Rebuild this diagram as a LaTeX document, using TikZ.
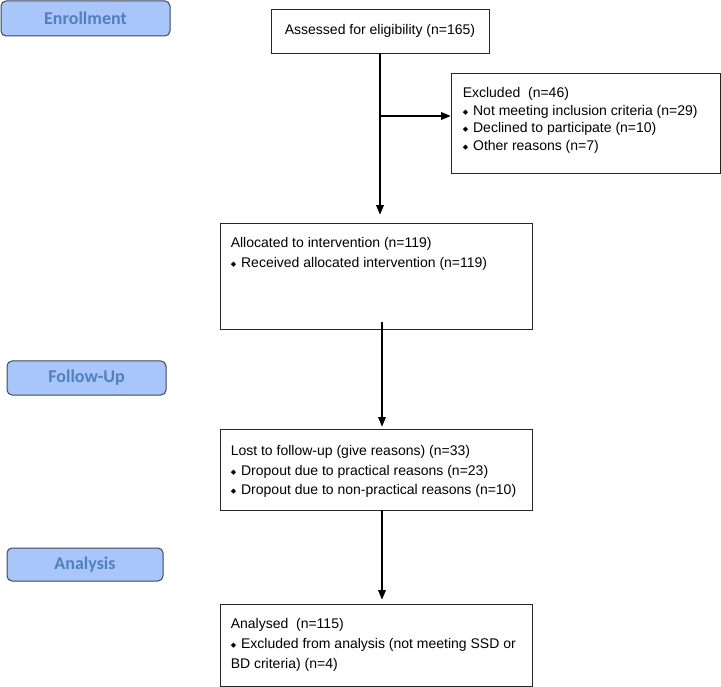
\documentclass[tikz,border=0pt]{standalone}
\usepackage{fontspec}
\setmainfont{Liberation Sans}
\newfontfamily\stagefont{Carlito}
\newfontfamily\symfont{DejaVu Sans}
\usetikzlibrary{arrows}
\usetikzlibrary{positioning}
\definecolor{stagefill}{RGB}{169,198,250}
\definecolor{stageline}{RGB}{62,70,88}
\definecolor{stagetext}{RGB}{80,128,190}
\newcommand{\bul}{\raisebox{1.2pt}{\symfont\fontsize{7}{7}\selectfont ◆}\hspace{5pt}}
\tikzset{stage/.style = {draw=stageline, fill=stagefill, line width=1pt, rounded corners=5pt, text=stagetext, font=\stagefont\bfseries\fontsize{18}{18}\selectfont}}
\tikzset{flowbox/.style = {draw=black!85, line width=0.9pt, inner sep=0pt}}
\tikzset{boxtext/.style = {align=left, inner sep=0pt, font=\fontsize{14}{20}\selectfont}}
\tikzset{flow/.style = {-triangle 45, line width=1.2pt}}

\begin{document}
\begin{tikzpicture}[x=1pt, y=-1pt]
    \useasboundingbox (0,0) rectangle (721,687);

    % stages
    \node[stage, minimum width=169pt, minimum height=35pt] (enroll) at (85.5,18.5) {Enrollment};
    \node[stage, minimum width=159pt, minimum height=34pt] (followup) at (86.5,378) {Follow-Up};
    \node[stage, minimum width=156pt, minimum height=33pt] (analysis) at (85,564.5) {Analysis};

    % boxes
    \node[flowbox, minimum width=218pt, minimum height=44pt, font=\fontsize{14}{16}\selectfont] (assess) at (380,31) {Assessed for eligibility (n=165)};
    \node[flowbox, minimum width=269pt, minimum height=100pt] (excl) at (585.5,123) {};
    \node[flowbox, minimum width=312pt, minimum height=106pt] (alloc) at (376,276) {};
    \node[flowbox, minimum width=312pt, minimum height=81pt] (lost) at (376,469.5) {};
    \node[flowbox, minimum width=312pt, minimum height=82pt] (anal) at (376,645) {};

    \node[boxtext, font=\fontsize{14}{17.5}\selectfont, below right=15pt and 12pt of excl.north west] (excltext) {%
      Excluded~ (n=46)\\
      \bul Not meeting inclusion criteria (n=29)\\
      \bul Declined to participate (n=10)\\
      \bul Other reasons (n=7)};
    \node[boxtext, below right=15pt and 11pt of alloc.north west] (alloctext) {%
      Allocated to intervention (n=119)\\
      \bul Received allocated intervention (n=119)};
    \node[boxtext, font=\fontsize{14}{19.5}\selectfont, below right=17pt and 11pt of lost.north west] (losttext) {%
      Lost to follow-up (give reasons) (n=33)\\
      \bul Dropout due to practical reasons (n=23)\\
      \bul Dropout due to non-practical reasons (n=10)};
    \node[boxtext, below right=15pt and 11pt of anal.north west] (analtext) {%
      Analysed~ (n=115)\\
      \bul Excluded from analysis (not meeting SSD or\\
      BD criteria) (n=4)};

    % connectors
    \coordinate (split) at (380,116);
    \draw[flow, shorten >=8pt] (assess.south) -- (assess.south |- alloc.north);
    \draw[flow] (split) -- (split -| excl.west);
    \draw[flow, shorten <=-7pt, shorten >=2pt] ([xshift=6pt]alloc.south) -- ([xshift=6pt]lost.north);
    \draw[flow, shorten >=4pt] ([xshift=6pt]lost.south) -- ([xshift=6pt]anal.north);

\end{tikzpicture}
\end{document}
